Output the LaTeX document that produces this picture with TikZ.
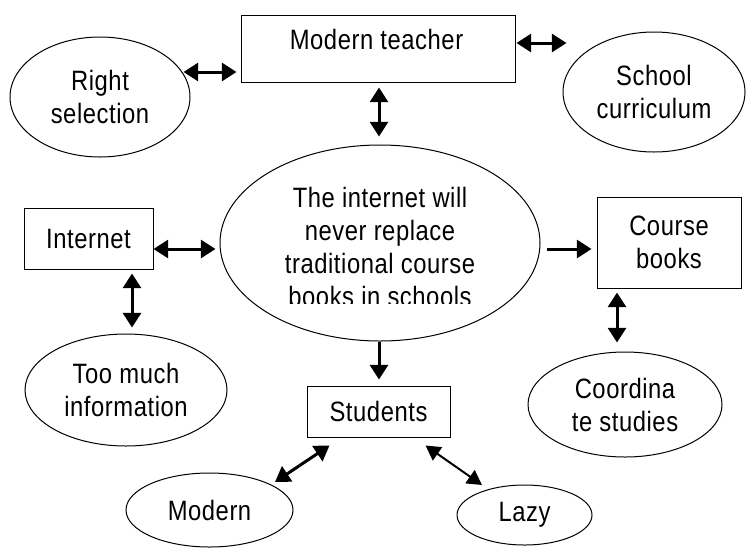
\documentclass[tikz,border=0pt]{standalone}
\usepackage{fontspec}
\setmainfont{Liberation Sans}[LetterSpace=2,FakeStretch=0.85]
\usetikzlibrary{arrows.meta,shapes.geometric}
\begin{document}
\begin{tikzpicture}[x=0.75pt,y=-0.75pt,
 every node/.style={font=\fontsize{21}{24.75}\selectfont},
 box/.style={draw,line width=0.75pt,rectangle,inner sep=0pt,align=center},
 oval/.style={draw,line width=0.75pt,ellipse,inner sep=0pt,align=center},
 dbl/.style={line width=2.25pt,{Triangle[length=11pt,width=13.5pt]}-{Triangle[length=11pt,width=13.5pt]}},
 sgl/.style={line width=2.25pt,-{Triangle[length=11pt,width=13.5pt]}},
 thn/.style={line width=1.5pt,{Triangle[length=11pt,width=12pt]}-{Triangle[length=11pt,width=12pt]}},
 txt/.style={inner sep=0pt,align=center}]
\useasboundingbox (0,0) rectangle (748,547);
\clip (0,0) rectangle (748,547);
% boxes
\node[box,minimum width=205.5pt,minimum height=50.25pt] (mt) at (378,48.5) {};
\node[txt,anchor=base] (mtt) at (376.5,49.3) {Modern teacher};
\node[box,minimum width=96.75pt,minimum height=45.75pt] (in) at (88.5,238.5) {Internet};
\node[box,minimum width=108pt,minimum height=68.25pt] (cb) at (669,242.5) {Course\\books};
\node[box,minimum width=107.25pt,minimum height=38.25pt] (st) at (378.5,411.5) {Students};
% ellipses
\node[oval,minimum width=135pt,minimum height=90pt] (rs) at (100,97) {Right\\selection};
\node[oval,minimum width=136.5pt,minimum height=90pt] (sc) at (654,92) {School\\curriculum};
\node[oval,minimum width=151.5pt,minimum height=84pt] (tm) at (126,390) {Too much\\information};
\node[oval,minimum width=145.5pt,minimum height=78.75pt] (cs) at (625,404.5) {Coordina\\te studies};
\node[oval,minimum width=125.25pt,minimum height=55.5pt] (mo) at (209.5,510) {Modern};
\node[oval,minimum width=101.25pt,minimum height=45pt] (lz) at (524.5,515) {Lazy};
\node[oval,minimum width=240pt,minimum height=147pt] (c) at (380,243) {};
\begin{scope}
\clip (220,140) rectangle (540,303);
\node[txt,anchor=north] (ct) at (380,186.7) {The internet will\\never replace\\traditional course\\books in schools};
\end{scope}
% connectors
\draw[dbl] ([shift={(-7,-25)}]rs.east) -- ([shift={(-4,23.5)}]mt.west);
\draw[dbl] ([shift={(1,-5.5)}]mt.east) -- ([shift={(4,-49)}]sc.west);
\draw[dbl] ([shift={(1,5)}]mt.south) -- ([shift={(-1,-8)}]c.north);
\draw[dbl] ([shift={(0,10.5)}]in.east) -- ([shift={(-4,6)}]c.west);
\draw[dbl] ([shift={(43.5,4)}]in.south) -- ([shift={(6,-6)}]tm.north);
\draw[sgl] ([shift={(6,6)}]c.east) -- ([shift={(-5,6.5)}]cb.west);
\draw[dbl] ([shift={(-52,4)}]cb.south) -- ([shift={(-8,-9)}]cs.north);
\draw[sgl] ([shift={(-1,0)}]c.south) -- ([shift={(0.5,-6)}]st.north);
\draw[dbl] ([shift={(23,8)}]st.south west) -- ([shift={(65.5,-28)}]mo.center);
\draw[thn] ([shift={(-25,8)}]st.south east) -- ([shift={(-42.5,-30)}]lz.center);
\end{tikzpicture}
\end{document}
